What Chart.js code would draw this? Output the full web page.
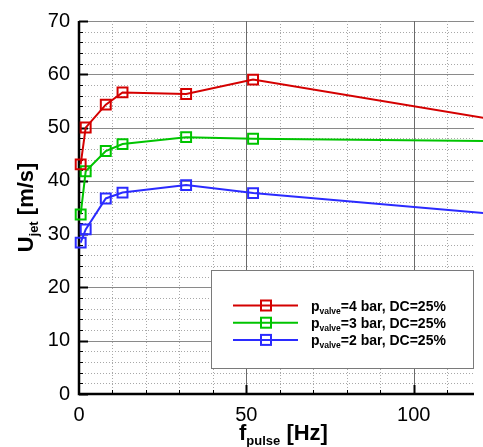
<!DOCTYPE html>
<html><head><meta charset="utf-8">
<script src="https://cdn.jsdelivr.net/npm/chart.js@4.4.1/dist/chart.umd.min.js"></script>
<style>html,body{margin:0;padding:0;background:#fff;overflow:hidden}#wrap{width:483px;height:447px}</style>
</head><body><div id="wrap"><canvas id="c" width="483" height="447"></canvas></div>
<script>
// ---- data ----
const freqHz    = [0.5, 2, 8, 13, 32, 52, 150];
const uJet4bar  = [43.1, 50.0, 54.3, 56.6, 56.3, 59.0, 48.8];
const uJet3bar  = [33.7, 41.8, 45.6, 46.9, 48.2, 47.9, 47.3];
const uJet2bar  = [28.4, 30.9, 36.7, 37.8, 39.2, 37.7, 32.4];
const seriesPressure = ['=4 bar, DC=25%', '=3 bar, DC=25%', '=2 bar, DC=25%'];
const xTickLabels = ['0', '50', '100'];
const yTickLabels = ['0', '10', '20', '30', '40', '50', '60', '70'];

const COLORS = ['#d40000', '#00c400', '#2b2bff'];
const FONT = "'Liberation Sans', Arial, Helvetica, sans-serif";

function pts(ys){ return freqHz.map((f,i)=>({x:f, y:ys[i]})); }
const seriesValues = [uJet4bar, uJet3bar, uJet2bar];

function richWidth(ctx, parts){
  let w=0; for(const p of parts){ ctx.font = 'bold '+p.size+'px '+FONT; w += ctx.measureText(p.text).width; } return w;
}
function drawRich(ctx, x, y, parts){
  for(const p of parts){ ctx.font = 'bold '+p.size+'px '+FONT; ctx.fillText(p.text, x, y + (p.dy||0)); x += ctx.measureText(p.text).width; }
}

const framePlugin = {
  id: 'frame',
  beforeDatasetsDraw(chart){
    const {ctx, chartArea:a, scales:{x, y}} = chart;
    ctx.save();
    for(let v=0; v<=70; v+=2){
      const py = Math.round(y.getPixelForValue(v)) + 0.5;
      ctx.beginPath();
      if(v%10===0){ ctx.setLineDash([]); ctx.strokeStyle='#8a8a8a'; }
      else { ctx.setLineDash([1,2]); ctx.strokeStyle='#a8a8a8'; }
      ctx.lineWidth=1; ctx.moveTo(a.left, py); ctx.lineTo(a.right, py); ctx.stroke();
    }
    for(let v=10; v<=118; v+=10){
      const px = Math.round(x.getPixelForValue(v)) + 0.5;
      ctx.beginPath();
      if(v%50===0){ ctx.setLineDash([]); ctx.strokeStyle='#6a6a6a'; }
      else { ctx.setLineDash([1,2]); ctx.strokeStyle='#a8a8a8'; }
      ctx.lineWidth=1; ctx.moveTo(px, a.top); ctx.lineTo(px, a.bottom); ctx.stroke();
    }
    ctx.setLineDash([]);
    ctx.strokeStyle='#000';
    for(let v=0; v<=70; v+=2){
      const py = Math.round(y.getPixelForValue(v)) + 0.5;
      const major = v%10===0;
      ctx.lineWidth = major?2:1;
      ctx.beginPath(); ctx.moveTo(a.left, py); ctx.lineTo(a.left + (major?9:4), py); ctx.stroke();
    }
    for(let v=10; v<=118; v+=10){
      const px = Math.round(x.getPixelForValue(v)) + 0.5;
      const major = v%50===0;
      ctx.lineWidth = major?2:1;
      ctx.beginPath(); ctx.moveTo(px, a.bottom); ctx.lineTo(px, a.bottom - (major?9:4)); ctx.stroke();
    }
    ctx.lineWidth = 2.5;
    ctx.beginPath(); ctx.moveTo(a.left, a.top); ctx.lineTo(a.left, a.bottom); ctx.lineTo(a.right, a.bottom); ctx.stroke();
    ctx.restore();
  },
  afterDraw(chart){
    const {ctx, chartArea:a} = chart;
    ctx.save();
    ctx.fillStyle = '#000';
    ctx.textBaseline = 'alphabetic';
    ctx.textAlign = 'left';
    const xt = [{text:'f', size:22}, {text:'pulse', size:13, dy:5}, {text:' [Hz]', size:22}];
    drawRich(ctx, 239, 440, xt);
    const yt = [{text:'U', size:22}, {text:'jet', size:13, dy:5}, {text:' [m/s]', size:22}];
    const yw = richWidth(ctx, yt);
    ctx.translate(33, (a.top+a.bottom)/2);
    ctx.rotate(-Math.PI/2);
    drawRich(ctx, -yw/2, 0, yt);
    ctx.setTransform(1,0,0,1,0,0);
    ctx.fillStyle = '#fff';
    ctx.fillRect(211.5, 270.5, 262, 98);
    ctx.strokeStyle = '#7a7a7a'; ctx.lineWidth = 1;
    ctx.strokeRect(211.5, 270.5, 262, 98);
    for(let i=0;i<3;i++){
      const ly = 305.5 + i*17.2;
      ctx.strokeStyle = COLORS[i]; ctx.lineWidth = 2;
      ctx.beginPath(); ctx.moveTo(233, ly); ctx.lineTo(298, ly); ctx.stroke();
      ctx.strokeRect(261, ly-5, 10, 10);
      ctx.fillStyle = '#000';
      drawRich(ctx, 311, ly+5, [{text:'p', size:14}, {text:'valve', size:8.5, dy:3}, {text:seriesPressure[i], size:14}]);
    }
    ctx.restore();
  }
};

new Chart(document.getElementById('c'), {
  type: 'scatter',
  data: {
    datasets: seriesValues.map((ys,i)=>({
      label: 'p_valve' + seriesPressure[i],
      data: pts(ys),
      showLine: true,
      borderColor: COLORS[i],
      backgroundColor: 'rgba(0,0,0,0)',
      borderWidth: 2,
      pointStyle: 'rect',
      pointRadius: 7,
      pointBorderWidth: 2,
      pointBorderColor: COLORS[i],
      pointBackgroundColor: 'rgba(0,0,0,0)',
      tension: 0,
      clip: false
    }))
  },
  options: {
    responsive: false,
    animation: false,
    devicePixelRatio: 1,
    layout: { padding: { top: 21, right: 0, left: 0, bottom: 0 } },
    plugins: { legend: { display: false }, tooltip: { enabled: false } },
    scales: {
      x: {
        type: 'linear', min: 0, max: 118,
        grid: { display: false, drawTicks: false },
        border: { display: false },
        afterBuildTicks(s){ s.ticks = xTickLabels.map(t=>({value:Number(t)})); },
        afterFit(s){ s.height = 53; },
        ticks: { autoSkip: false, maxRotation: 0, padding: 9, color: '#000',
                 font: { family: FONT, size: 20 },
                 callback: (v)=> xTickLabels.includes(String(v)) ? String(v) : '' }
      },
      y: {
        min: 0, max: 70,
        grid: { display: false, drawTicks: false },
        border: { display: false },
        afterBuildTicks(s){ s.ticks = yTickLabels.map(t=>({value:Number(t)})); },
        afterFit(s){ s.width = 79; },
        ticks: { autoSkip: false, padding: 9, color: '#000',
                 font: { family: FONT, size: 20 },
                 callback: (v)=> yTickLabels.includes(String(v)) ? String(v) : '' }
      }
    }
  },
  plugins: [framePlugin]
});
</script>
</body></html>
